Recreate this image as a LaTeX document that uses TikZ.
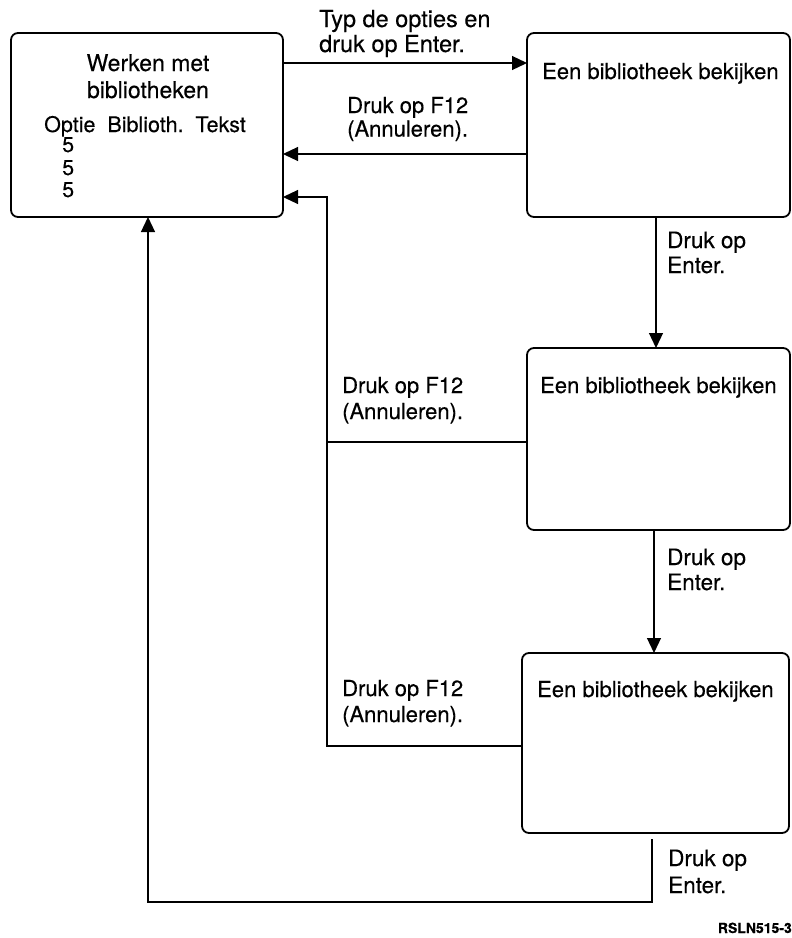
\documentclass[tikz,border=0pt]{standalone}
\usepackage{fontspec}
\setmainfont{TeX Gyre Heros}[FakeBold=0.3]
\usetikzlibrary{arrows.meta}
\newcommand\mylines[1]{\begin{tabular}[t]{@{}l@{}}#1\end{tabular}}
\begin{document}
\begin{tikzpicture}[x=1pt,y=-1pt,
  box/.style={draw, line width=1.8pt, rounded corners=7pt, inner sep=0pt, outer sep=0pt},
  conn/.style={line width=1.2pt},
  arr/.style={conn, -{Triangle[length=15pt,width=14pt]}},
  lbl/.style={anchor=base west, inner sep=0pt, font=\fontsize{22.5}{25}\selectfont},
  btxt/.style={anchor=base west, inner sep=0pt, font=\fontsize{21.5}{23}\selectfont}]
\useasboundingbox (0,0) rectangle (792,938);
% boxes
\node[box, minimum width=272pt, minimum height=184pt] (A) at (147,125) {};
\node[box, minimum width=263pt, minimum height=184pt] (B1) at (658.5,125) {};
\node[box, minimum width=263pt, minimum height=182pt] (B2) at (658.5,439) {};
\node[box, minimum width=267pt, minimum height=180pt] (B3) at (655.5,743) {};
% box texts
\node[inner sep=0pt, anchor=base, font=\fontsize{23}{27}\selectfont] (At) at (148,71)
  {\begin{tabular}[t]{@{}c@{}}Werken met\\bibliotheken\end{tabular}};
\node[btxt] (Ah) at (44,132) {Optie\ \ Biblioth.\ \ Tekst};
\node[btxt] (A5a) at (62,152) {5};
\node[btxt] (A5b) at (62,175) {5};
\node[btxt] (A5c) at (62,197) {5};
\node[btxt, font=\fontsize{22}{23}\selectfont] (B1t) at (542,79) {Een bibliotheek bekijken};
\node[btxt, font=\fontsize{22}{23}\selectfont] (B2t) at (540,393) {Een bibliotheek bekijken};
\node[btxt, font=\fontsize{22}{23}\selectfont] (B3t) at (537,697) {Een bibliotheek bekijken};
% labels
\node[lbl, font=\fontsize{23.5}{25}\selectfont] (L1) at (319,27) {\mylines{Typ de opties en\\druk op Enter.}};
\node[lbl, font=\fontsize{22}{23.5}\selectfont] (L2) at (347,113) {\mylines{Druk op F12\\(Annuleren).}};
\node[lbl] (L3) at (667,248) {\mylines{Druk op\\Enter.}};
\node[lbl, font=\fontsize{22}{26}\selectfont] (L4) at (342,393) {\mylines{Druk op F12\\(Annuleren).}};
\node[lbl] (L5) at (667,565) {\mylines{Druk op\\Enter.}};
\node[lbl, font=\fontsize{22}{26}\selectfont] (L6) at (342,696) {\mylines{Druk op F12\\(Annuleren).}};
\node[lbl, font=\fontsize{22.5}{27}\selectfont] (L7) at (668,866) {\mylines{Druk op\\Enter.}};
\node[anchor=base east, inner sep=0pt, font=\bfseries\fontsize{14}{16}\selectfont] (id) at (792,933) {RSLN515-3};
% junction coordinates
\coordinate (jr) at (327,746);
\coordinate (jt) at (327,197);
\coordinate (jb1) at (652,902);
\coordinate (jb2) at (148,902);
% connectors
\draw[arr] ([yshift=-30pt]A.north east) -- ([yshift=-30pt]B1.north west);
\draw[arr] ([yshift=-121pt]B1.north west) -- ([yshift=-121pt]A.north east);
\draw[arr] ([xshift=-2.5pt]B1.south) -- ([xshift=-2.5pt]B1.south |- B2.north);
\draw[arr] ([xshift=-4.5pt]B2.south) -- ([xshift=-4.5pt]B2.south |- B3.north);
\draw[conn] ([yshift=-94pt]B2.north west) -- ([yshift=-94pt]B2.north west -| jr);
\draw[arr] ([yshift=-93pt]B3.north west) -- (jr) -- (jt) -- (jt -| A.east);
\draw[arr] ([xshift=-3.5pt,yshift=-6pt]B3.south) -- (jb1) -- (jb2) -- (jb2 |- A.south);
\end{tikzpicture}
\end{document}
